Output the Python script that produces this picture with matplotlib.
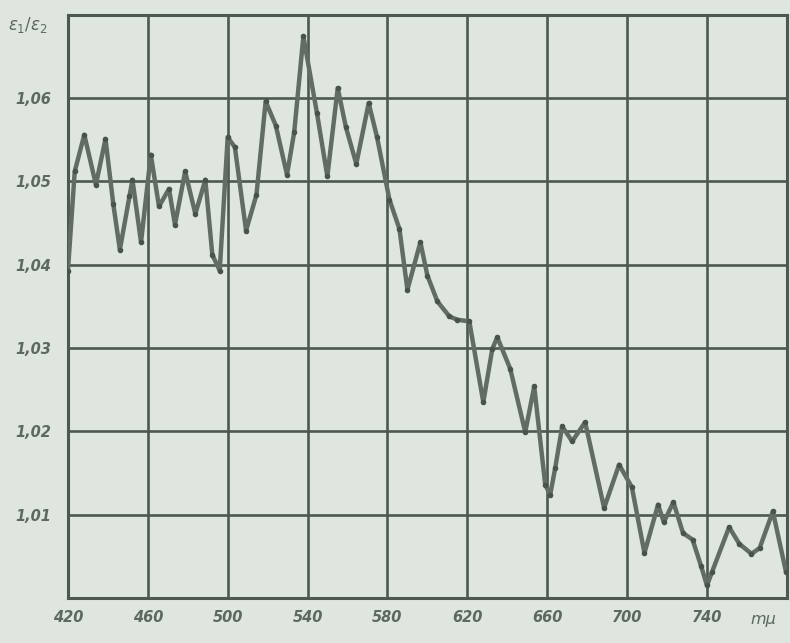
import matplotlib
matplotlib.use("Agg")
import matplotlib.pyplot as plt
from matplotlib.ticker import FixedLocator, NullLocator

# Wavelength (mμ) and measured ratio
wavelength = [420.0, 423.4, 428.2, 434.0, 438.8, 442.7, 446.0, 450.8, 452.3, 456.6,
              461.5, 465.6, 470.6, 473.6, 478.7, 483.8, 488.8, 492.3, 496.0, 500.0,
              503.6, 509.2, 514.4, 519.0, 524.1, 529.7, 533.3, 537.9, 544.7, 549.9,
              555.1, 559.2, 564.4, 570.6, 574.8, 581.0, 586.0, 590.0, 596.5, 600.0,
              605.0, 611.0, 615.0, 621.0, 628.0, 632.5, 635.0, 641.5, 649.0, 653.5,
              659.0, 661.5, 664.0, 667.5, 672.5, 679.0, 688.5, 696.0, 702.4, 708.7,
              715.5, 718.4, 723.2, 728.0, 732.8, 737.1, 740.0, 742.5, 751.1, 756.2,
              762.3, 766.4, 773.0, 779.6]
ratio = [1.0393, 1.0512, 1.0556, 1.0496, 1.0551, 1.0473, 1.0418, 1.0482, 1.0502, 1.0427,
         1.0532, 1.0470, 1.0491, 1.0448, 1.0512, 1.0461, 1.0502, 1.0412, 1.0393, 1.0553,
         1.0541, 1.0441, 1.0484, 1.0596, 1.0567, 1.0508, 1.0559, 1.0674, 1.0582, 1.0506,
         1.0612, 1.0565, 1.0521, 1.0594, 1.0553, 1.0478, 1.0443, 1.0370, 1.0427, 1.0387,
         1.0356, 1.0338, 1.0334, 1.0332, 1.0235, 1.0299, 1.0313, 1.0275, 1.0199, 1.0254,
         1.0136, 1.0124, 1.0156, 1.0206, 1.0188, 1.0211, 1.0108, 1.0160, 1.0133, 1.0054,
         1.0112, 1.0091, 1.0115, 1.0078, 1.0070, 1.0038, 1.0015, 1.0031, 1.0085, 1.0065,
         1.0053, 1.0060, 1.0104, 1.0031]

x_ticks = [420, 460, 500, 540, 580, 620, 660, 700, 740, 780]
x_tick_labels = ["420", "460", "500", "540", "580", "620", "660", "700", "740", ""]
y_ticks = [1.00, 1.01, 1.02, 1.03, 1.04, 1.05, 1.06, 1.07]
y_tick_labels = ["", "1,01", "1,02", "1,03", "1,04", "1,05", "1,06", ""]

paper = "#dfe6df"
ink = "#4f5751"
curve = "#636b65"
label_ink = "#5f6761"

fig = plt.figure(figsize=(7.9, 6.43), dpi=100, facecolor=paper)
ax = fig.add_axes([0.086, 0.070, 0.910, 0.907], facecolor=paper)

ax.set_xlim(420, 780)
ax.set_ylim(1.00, 1.07)

ax.xaxis.set_major_locator(FixedLocator(x_ticks))
ax.yaxis.set_major_locator(FixedLocator(y_ticks))
ax.set_xticklabels(x_tick_labels)
ax.set_yticklabels(y_tick_labels)
ax.xaxis.set_minor_locator(NullLocator())
ax.yaxis.set_minor_locator(NullLocator())

ax.grid(True, color=ink, linewidth=1.9)
ax.set_axisbelow(True)
for s in ax.spines.values():
    s.set_color(ink)
    s.set_linewidth(2.2)

ax.tick_params(axis="x", length=0, pad=9, colors=label_ink)
ax.tick_params(axis="y", length=0, pad=12, colors=label_ink)
for lab in ax.get_xticklabels() + ax.get_yticklabels():
    lab.set_fontstyle("italic")
    lab.set_fontweight("bold")
    lab.set_fontsize(10.5)
    lab.set_fontfamily("DejaVu Sans")

ax.plot(wavelength, ratio, color=curve, linewidth=3.2, solid_joinstyle="round",
        solid_capstyle="round", marker="o", markersize=3.0,
        markerfacecolor="#4a524c", markeredgecolor="#4a524c", zorder=3)

# unit at the end of the wavelength axis
ax.text(762, 0.9983, "mμ", fontsize=11.5, fontstyle="italic", color=label_ink,
        ha="left", va="top", clip_on=False)
# quantity on the vertical axis
ax.text(-0.028, 1.0, r"$\varepsilon_1/\varepsilon_2$", transform=ax.transAxes,
        fontsize=12, color=label_ink, ha="right", va="top", clip_on=False)

fig.savefig("out.png", dpi=100, facecolor=paper)
